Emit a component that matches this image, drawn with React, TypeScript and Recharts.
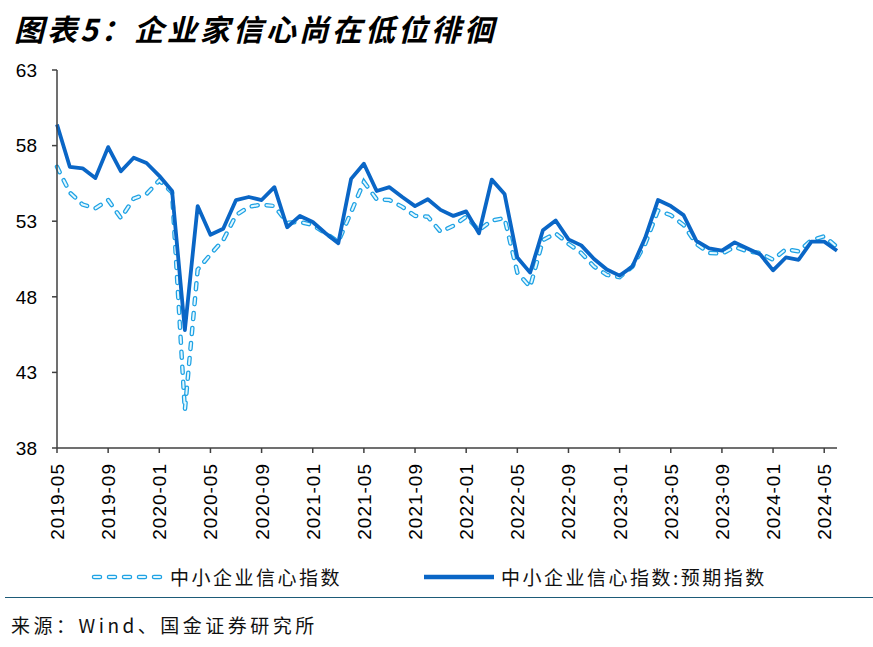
import { LineChart, Line, XAxis, YAxis } from 'recharts';

const MONTHS = [
  '2019-05', '2019-06', '2019-07', '2019-08', '2019-09', '2019-10', '2019-11', '2019-12',
  '2020-01', '2020-02', '2020-03', '2020-04', '2020-05', '2020-06', '2020-07', '2020-08',
  '2020-09', '2020-10', '2020-11', '2020-12', '2021-01', '2021-02', '2021-03', '2021-04',
  '2021-05', '2021-06', '2021-07', '2021-08', '2021-09', '2021-10', '2021-11', '2021-12',
  '2022-01', '2022-02', '2022-03', '2022-04', '2022-05', '2022-06', '2022-07', '2022-08',
  '2022-09', '2022-10', '2022-11', '2022-12', '2023-01', '2023-02', '2023-03', '2023-04',
  '2023-05', '2023-06', '2023-07', '2023-08', '2023-09', '2023-10', '2023-11', '2023-12',
  '2024-01', '2024-02', '2024-03', '2024-04', '2024-05', '2024-06',
];

// 中小企业信心指数
const CONFIDENCE = [
  56.6, 54.9, 54.1, 53.85, 54.4, 53.2, 54.5, 54.8,
  55.7, 54.9, 40.5, 49.8, 50.8, 51.75, 53.4, 53.95,
  54.1, 54.0, 52.9, 52.95, 52.75, 52.2, 51.65, 53.6,
  55.6, 54.45, 54.4, 53.95, 53.35, 53.3, 52.3, 52.7,
  53.3, 52.4, 53.05, 53.2, 49.6, 48.65, 51.75, 52.2,
  51.5, 50.9, 50.0, 49.45, 49.3, 50.0, 51.5, 53.7,
  53.4, 52.75, 51.5, 50.9, 50.85, 51.3, 51.0, 50.9,
  50.45, 51.15, 51.0, 51.75, 52.0, 51.3,
];

// 中小企业信心指数:预期指数
const EXPECTATION = [
  59.4, 56.6, 56.5, 55.85, 57.9, 56.3, 57.2, 56.85,
  56.0, 55.0, 45.8, 54.0, 52.1, 52.5, 54.4, 54.6,
  54.4, 55.25, 52.6, 53.35, 52.95, 52.2, 51.55, 55.8,
  56.8, 55.0, 55.25, 54.6, 54.0, 54.45, 53.75, 53.35,
  53.65, 52.2, 55.75, 54.8, 50.6, 49.6, 52.4, 53.05,
  51.8, 51.4, 50.5, 49.8, 49.4, 50.0, 51.9, 54.4,
  54.0, 53.4, 51.7, 51.2, 51.05, 51.6, 51.2, 50.8,
  49.75, 50.6, 50.45, 51.65, 51.65, 51.05,
];

const Y_TICKS = [38, 43, 48, 53, 58, 63];

const SERIES_NAMES = ['中小企业信心指数', '中小企业信心指数:预期指数'];

const data = MONTHS.map((m, i) => ({
  month: m,
  confidence: CONFIDENCE[i],
  expectation: EXPECTATION[i],
}));

const SOLID = '#0a66c6';
const DASH_OUT = '#1fa2e4';
const DASH_IN = '#e4f8ff';
const AXIS = '#404040';
const CJK = '"Noto Sans CJK SC", "Liberation Sans", sans-serif';

function XTick({ x, y, payload }: any) {
  return (
    <g transform={`translate(${x},${y})`}>
      <text
        transform="rotate(-90)"
        x={0}
        y={0}
        dy={7}
        textAnchor="end"
        fontSize={19}
        letterSpacing={1}
        fill="#000"
        fontFamily='"Liberation Sans", Arial, sans-serif'
      >
        {payload.value}
      </text>
    </g>
  );
}

function DashSample() {
  return (
    <svg width={72} height={12} style={{ display: 'block' }}>
      <line x1={3} y1={6} x2={69} y2={6} stroke={DASH_OUT} strokeWidth={4.5} strokeDasharray="6 9" strokeLinecap="round" />
      <line x1={3} y1={6} x2={69} y2={6} stroke={DASH_IN} strokeWidth={2} strokeDasharray="6 9" strokeLinecap="round" />
    </svg>
  );
}

function SolidSample() {
  return (
    <svg width={70} height={12} style={{ display: 'block' }}>
      <line x1={0} y1={6} x2={70} y2={6} stroke={SOLID} strokeWidth={4.5} />
    </svg>
  );
}

const legendText: React.CSSProperties = {
  position: 'absolute',
  top: 566,
  fontSize: 19,
  lineHeight: '22px',
  letterSpacing: 2.5,
  fontFamily: CJK,
  color: '#111',
  whiteSpace: 'nowrap',
};

export default function App() {
  return (
    <div style={{ position: 'relative', width: 873, height: 647, background: '#fff', overflow: 'hidden' }}>
      <style>{'body{margin:0}'}</style>
      <div
        style={{
          position: 'absolute',
          left: 14,
          top: 12,
          fontSize: 30,
          lineHeight: '32px',
          fontWeight: 'bold',
          fontStyle: 'italic',
          letterSpacing: 3,
          fontFamily: CJK,
          color: '#000',
          whiteSpace: 'nowrap',
        }}
      >
        图表5：企业家信心尚在低位徘徊
      </div>

      <div style={{ position: 'absolute', left: 0, top: 0 }}>
        <LineChart width={873} height={560} data={data} margin={{ top: 70, right: 36, left: 0, bottom: 12 }}>
          <XAxis
            dataKey="month"
            interval={3}
            height={100}
            tickSize={5}
            tickMargin={10}
            tick={<XTick />}
            axisLine={{ stroke: AXIS, strokeWidth: 1.5 }}
            tickLine={{ stroke: AXIS, strokeWidth: 1.5 }}
          />
          <YAxis
            width={57}
            domain={[38, 63]}
            ticks={Y_TICKS}
            interval={0}
            tickSize={5}
            tickMargin={15}
            tick={{ fontSize: 19, fill: '#000', fontFamily: '"Liberation Sans", Arial, sans-serif' }}
            axisLine={{ stroke: AXIS, strokeWidth: 1.5 }}
            tickLine={{ stroke: AXIS, strokeWidth: 1.5 }}
          />
          <Line
            dataKey="confidence"
            stroke={DASH_OUT}
            strokeWidth={4.5}
            strokeDasharray="6 9"
            strokeLinecap="round"
            dot={false}
            activeDot={false}
            isAnimationActive={false}
            type="linear"
          />
          <Line
            dataKey="confidence"
            stroke={DASH_IN}
            strokeWidth={2}
            strokeDasharray="6 9"
            strokeLinecap="round"
            dot={false}
            activeDot={false}
            isAnimationActive={false}
            type="linear"
          />
          <Line
            dataKey="expectation"
            stroke={SOLID}
            strokeWidth={3.8}
            strokeLinejoin="round"
            dot={false}
            activeDot={false}
            isAnimationActive={false}
            type="linear"
          />
        </LineChart>
      </div>

      <div style={{ position: 'absolute', left: 91, top: 571 }}>
        <DashSample />
      </div>
      <div style={{ ...legendText, left: 170 }}>{SERIES_NAMES[0]}</div>
      <div style={{ position: 'absolute', left: 424, top: 571 }}>
        <SolidSample />
      </div>
      <div style={{ ...legendText, left: 501 }}>{SERIES_NAMES[1]}</div>

      <div style={{ position: 'absolute', left: 5, top: 597, width: 868, borderTop: '1.5px solid #1d5b78' }} />

      <div
        style={{
          position: 'absolute',
          left: 11,
          top: 613,
          fontSize: 19,
          lineHeight: '24px',
          letterSpacing: 3.5,
          fontFamily: CJK,
          color: '#111',
          whiteSpace: 'nowrap',
        }}
      >
        来源：Wind、国金证券研究所
      </div>
    </div>
  );
}
